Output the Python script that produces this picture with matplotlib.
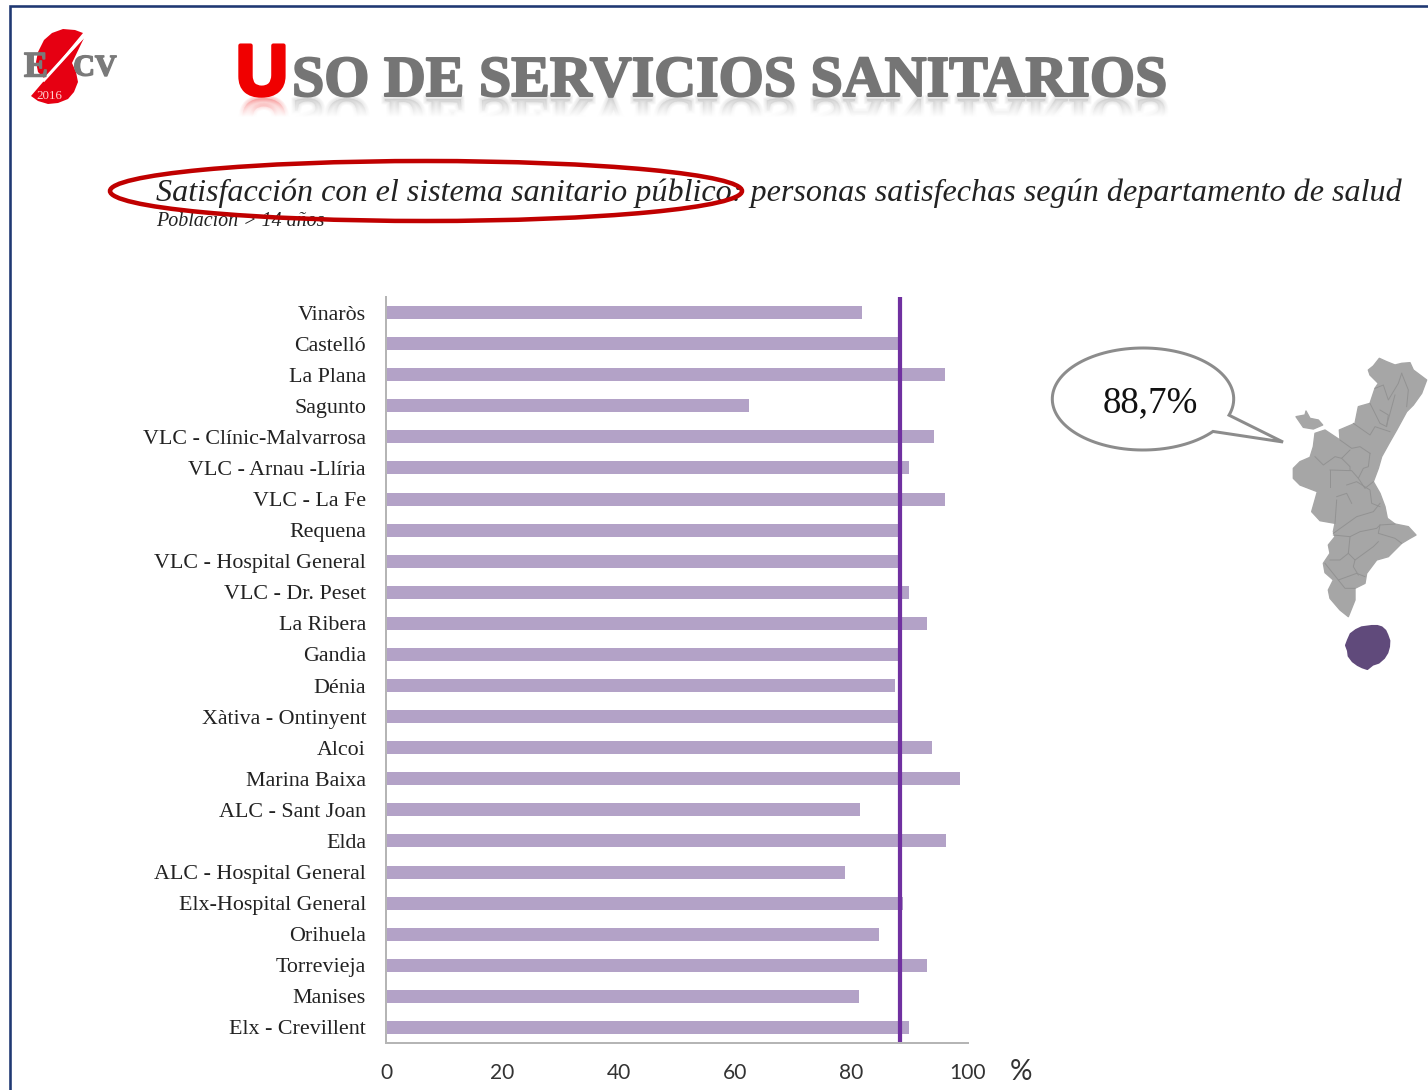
import numpy as np
import matplotlib
matplotlib.use("Agg")
import matplotlib.pyplot as plt
import matplotlib.patheffects as pe
from matplotlib.patches import Ellipse, Polygon, PathPatch
from matplotlib.textpath import TextPath
from matplotlib.font_manager import FontProperties
from matplotlib.transforms import Affine2D

departments = ["Vinaròs", "Castelló", "La Plana", "Sagunto", "VLC - Clínic-Malvarrosa",
               "VLC - Arnau -Llíria", "VLC - La Fe", "Requena", "VLC - Hospital General",
               "VLC - Dr. Peset", "La Ribera", "Gandia", "Dénia", "Xàtiva - Ontinyent",
               "Alcoi", "Marina Baixa", "ALC - Sant Joan", "Elda", "ALC - Hospital General",
               "Elx-Hospital General", "Orihuela", "Torrevieja", "Manises", "Elx - Crevillent"]
satisfied = [81.8, 88.5, 96.0, 62.4, 94.2, 89.9, 96.1, 88.3, 88.3, 89.9, 93.0, 88.3,
             87.5, 88.5, 93.8, 98.6, 81.4, 96.2, 78.9, 88.8, 84.7, 93.0, 81.2, 89.9]
overall_line = 88.4
overall_label = "88,7%"
x_ticks = [0, 20, 40, 60, 80, 100]

W, H = 1428, 1090
fig = plt.figure(figsize=(W / 100, H / 100), dpi=100, facecolor="white")
px = 0.72
SERIF = "Liberation Serif"

# page layer, in pixels
bg = fig.add_axes([0, 0, 1, 1])
bg.set_xlim(0, W)
bg.set_ylim(H, 0)
bg.axis("off")
navy = "#1f3872"
bg.plot([10, 10, W], [H, 6, 6], color=navy, lw=2.6 * px, solid_joinstyle="miter")

# logo
red = "#e60012"
bg.add_patch(Polygon([(83, 33), (75, 30), (63, 29), (52, 33), (44, 40), (38, 52), (36, 62), (38, 72), (45, 79)],
                     closed=True, fc=red, ec="none"))
bg.add_patch(Polygon([(84, 38), (72, 63), (76, 72), (78, 82), (74, 92), (68, 99), (58, 103), (48, 104), (38, 101), (31, 96), (43, 82)],
                     closed=True, fc=red, ec="none"))
logo_fx = [pe.withStroke(linewidth=1.5 * px, foreground="#7a7a7a")]
bg.text(36, 68, "E", color="#7a7a7a", fontsize=36 * px, family=SERIF, weight="bold", ha="center", va="center",
        path_effects=logo_fx)
bg.text(95, 68, "CV", color="#7a7a7a", fontsize=30 * px, family=SERIF, weight="bold", ha="center", va="center",
        path_effects=logo_fx)
bg.plot([84, 44], [36, 80], color="white", lw=3 * px)
bg.text(49, 96, "2016", color="#ffd0d0", fontsize=13 * px, family=SERIF, ha="center", va="center")

# heading
title_rest = "SO DE SERVICIOS SANITARIOS"
title_size = 58
baseline = 96
bg.text(262, 95, "U", color="#f00000", fontsize=72 * px, family="Liberation Sans", weight="bold",
        ha="center", va="baseline", zorder=4,
        path_effects=[pe.withStroke(linewidth=4 * px, foreground="#f00000")])
bg.text(292, baseline, title_rest, color="#757575", fontsize=title_size * px, family=SERIF,
        weight="bold", va="baseline", zorder=4,
        path_effects=[pe.withStroke(linewidth=2 * px, foreground="#757575")])
# soft mirror image of the heading, faded by a white gradient
tp_rest = TextPath((0, 0), title_rest, size=title_size, prop=FontProperties(family=SERIF, weight="bold"))
tp_u = TextPath((0, 0), "U", size=72, prop=FontProperties(family="Liberation Sans", weight="bold"))
for tp, x0, col in [(tp_rest, 292, "#808080"), (tp_u, 238, "#f00000")]:
    tr = Affine2D().translate(x0, baseline + 3) + bg.transData
    for lw in (1, 3, 5, 7):
        bg.add_patch(PathPatch(tp, transform=tr, fc=col, ec=col, lw=lw * px, alpha=0.1, zorder=1))
fade = np.ones((59, 2, 4))
fade[..., 3] = np.clip(np.linspace(0.25, 2.4, 59), 0, 1)[:, None]
bg.imshow(fade, extent=(225, 1185, 155, 96), aspect="auto", zorder=2)
bg.set_xlim(0, W)
bg.set_ylim(H, 0)

# subtitle
bg.text(156, 193, "Satisfacción con el sistema sanitario público: personas satisfechas según departamento de salud",
        fontsize=32.1 * px, family=SERIF, style="italic", color="#222222", va="center")
bg.text(156, 222, "Población > 14 años", fontsize=20 * px, family=SERIF, style="italic",
        color="#222222", va="center")
bg.add_patch(Ellipse((426, 191), 632, 60, fc="none", ec="#c00000", lw=4.5 * px, zorder=5))

# speech bubble
cx, cy, rx, ry = 1143, 399, 90.7, 51
angles = np.radians(np.linspace(39.5, 18.5 + 360, 120))
outline = list(zip(cx + rx * np.cos(angles), cy + ry * np.sin(angles))) + [(1283, 442)]
bg.add_patch(Polygon(outline, closed=True, fc="white", ec="#8c8c8c", lw=3 * px, joinstyle="miter"))
bg.text(1150, 403, overall_label, fontsize=37 * px, family=SERIF, ha="center", va="center", color="#111111")

def crop_a(points):
    return [(1280 + x / 3, 350 + y / 3) for x, y in points]

def crop_b(points):
    return [(1280 + x / 3, 500 + y / 3) for x, y in points]

grey = "#a6a6a6"
mainland = (
    crop_a([(265, 60), (280, 48), (298, 25), (320, 35), (345, 45), (365, 40), (390, 38), (400, 60), (440, 90),
            (425, 130), (400, 165), (380, 185), (350, 240), (330, 275), (305, 320), (295, 355), (280, 395),
            (300, 430), (315, 470)])
    + crop_b([(322, 55), (345, 72), (385, 80), (408, 105), (390, 115), (365, 130), (345, 150), (325, 170),
              (290, 180), (260, 220), (255, 250), (225, 265), (225, 300), (205, 350), (180, 330), (150, 295),
              (145, 270), (160, 240), (135, 218), (130, 190), (150, 160), (145, 135), (165, 110), (160, 95),
              (165, 70), (120, 62), (95, 35), (105, 0)])
    + crop_a([(112, 425), (60, 405), (40, 385), (40, 355), (60, 335), (90, 322), (100, 290), (105, 250),
              (135, 240), (165, 260), (180, 270), (178, 240), (225, 220), (235, 170), (270, 160), (285, 115),
              (295, 100), (270, 75)])
)
islet = crop_a([(48, 200), (75, 195), (78, 183), (90, 205), (115, 210), (128, 225), (100, 237), (70, 232)])
blob = crop_b([(245, 382), (260, 380), (275, 378), (292, 378), (305, 382), (316, 392), (322, 405), (328, 422),
               (327, 440), (322, 458), (312, 474), (296, 488), (278, 494), (262, 507), (247, 502), (233, 495),
               (218, 484), (206, 468), (204, 452), (198, 436), (204, 420), (212, 402), (228, 390)])
borders_a = [[(150, 360), (150, 410)], [(150, 360), (215, 362), (235, 385)],
             [(105, 320), (130, 345), (165, 320), (185, 325), (210, 300)],
             [(180, 270), (215, 295), (240, 290), (270, 310)], [(220, 220), (270, 255), (285, 230), (330, 245)],
             [(270, 160), (300, 220), (320, 230), (325, 195), (300, 180)],
             [(285, 115), (310, 105), (325, 150), (355, 100), (365, 70)], [(365, 70), (385, 120), (380, 170)],
             [(345, 135), (330, 190), (320, 225)], [(185, 325), (210, 350), (210, 360)],
             [(270, 310), (265, 350), (250, 355), (235, 385), (255, 415), (280, 395)],
             [(170, 440), (200, 430), (215, 460)], [(200, 405), (230, 395), (270, 420), (275, 460), (300, 470)]]
borders_b = [[(165, 70), (170, 0)], [(160, 100), (230, 50), (280, 35), (300, 10)],
             [(160, 105), (210, 110), (240, 95), (290, 85), (300, 75), (345, 72)],
             [(300, 75), (295, 100), (345, 115), (365, 130)],
             [(210, 110), (205, 160), (225, 180), (280, 140), (295, 125)],
             [(150, 180), (180, 180), (205, 160)], [(225, 180), (220, 200), (235, 225)],
             [(175, 240), (230, 220), (255, 230)], [(135, 190), (175, 240), (195, 265), (225, 265)]]
bg.add_patch(Polygon(mainland, closed=True, fc=grey, ec=grey, lw=1, joinstyle="round"))
bg.add_patch(Polygon(islet, closed=True, fc=grey, ec=grey, lw=1, joinstyle="round"))
for b in [crop_a(p) for p in borders_a] + [crop_b(p) for p in borders_b]:
    xs, ys = zip(*b)
    bg.plot(xs, ys, color="#929292", lw=0.7)
bg.add_patch(Polygon(blob, closed=True, fc="#604a7b", ec="#604a7b", lw=1.5, joinstyle="round"))

# chart
ax = fig.add_axes([386 / W, (H - 1043) / H, 582 / W, 746 / H])
ax.patch.set_alpha(0)
y = np.arange(len(departments))
ax.barh(y, satisfied, height=13 / 31.08, color="#b3a2c7")
ax.axvline(overall_line, color="#7030a0", lw=4.2 * px)
ax.set_xlim(0, 100)
ax.set_ylim(len(departments) - 0.5, -0.5)
ax.set_yticks(y, departments, fontsize=22 * px, family=SERIF, color="#222222")
ax.set_xticks(x_ticks, [str(t) for t in x_ticks], fontsize=21 * px, family="Lato", color="#333333")
ax.tick_params(axis="y", length=0, pad=20 * px)
ax.tick_params(axis="x", length=0, pad=20 * px)
for side in ("top", "right"):
    ax.spines[side].set_visible(False)
for side in ("left", "bottom"):
    ax.spines[side].set_color("#b5b5b5")
    ax.spines[side].set_linewidth(2 * px)

bg.text(1021, 1072, "%", fontsize=28 * px, family="Lato", ha="center", va="center", color="#333333")

fig.savefig("out.png", dpi=100, facecolor="white")
